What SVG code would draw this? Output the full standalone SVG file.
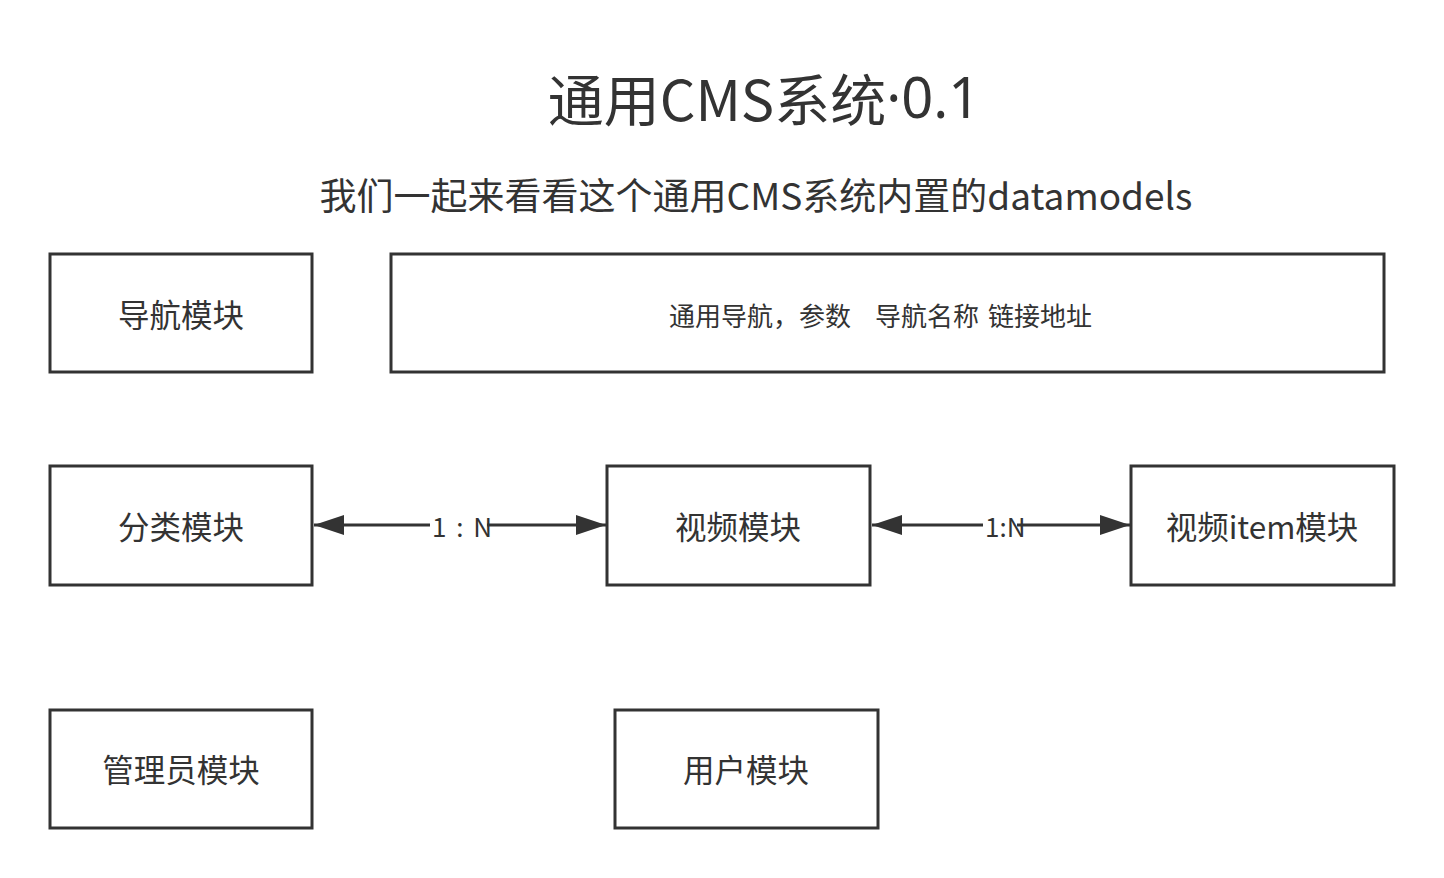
<svg xmlns="http://www.w3.org/2000/svg" width="1444" height="878" viewBox="0 0 1444 878">
<style>
text{font-family:"Noto Sans CJK SC","Noto Sans","Liberation Sans",sans-serif;fill:#333}
.box{fill:#fff;stroke:#333;stroke-width:3}
.lbl{font-size:31.5px;text-anchor:middle;dominant-baseline:central}
.line{stroke:#333;stroke-width:3;fill:none}
.el{font-size:26px;dominant-baseline:central}
</style>
<defs>
<marker id="ah" viewBox="0 0 30 20" refX="30" refY="10" markerWidth="30" markerHeight="20" markerUnits="userSpaceOnUse" orient="auto-start-reverse">
<path d="M0,0 L30,10 L0,20 Z" fill="#333"/>
</marker>
</defs>
<rect width="1444" height="878" fill="#fff"/>
<text x="764" y="96" font-size="56" text-anchor="middle" dominant-baseline="central">通用CMS系统<tspan font-family="Noto Sans, sans-serif">·0.1</tspan></text>
<text x="756" y="194" font-size="37" text-anchor="middle" dominant-baseline="central">我们一起来看看这个通用CMS系统内置的datamodels</text>
<g id="nav"><rect class="box" x="50" y="254" width="262" height="118"/><text class="lbl" x="181" y="313">导航模块</text></g>
<g id="navdesc"><rect class="box" x="391" y="254" width="993" height="118"/><text font-size="26" dominant-baseline="central" y="314"><tspan x="669">通用导航，参数</tspan><tspan x="875">导航名称</tspan><tspan x="988">链接地址</tspan></text></g>
<g id="category"><rect class="box" x="50" y="466" width="262" height="119"/><text class="lbl" x="181" y="525">分类模块</text></g>
<g id="video"><rect class="box" x="607" y="466" width="263" height="119"/><text class="lbl" x="738" y="525">视频模块</text></g>
<g id="videoitem"><rect class="box" x="1131" y="466" width="263" height="119"/><text class="lbl" x="1262" y="525">视频item模块</text></g>
<g id="admin"><rect class="box" x="50" y="710" width="262" height="118"/><text class="lbl" x="181" y="768">管理员模块</text></g>
<g id="user"><rect class="box" x="615" y="710" width="263" height="118"/><text class="lbl" x="746" y="768">用户模块</text></g>
<g id="connectors">
<text class="el" x="432" y="525" xml:space="preserve" word-spacing="4">1 : N</text>
<line class="line" x1="430" y1="525" x2="314" y2="525" marker-end="url(#ah)"/>
<line class="line" x1="487" y1="525" x2="606" y2="525" marker-end="url(#ah)"/>
<text class="el" x="985" y="525">1:N</text>
<line class="line" x1="983" y1="525" x2="872" y2="525" marker-end="url(#ah)"/>
<line class="line" x1="1017" y1="525" x2="1130" y2="525" marker-end="url(#ah)"/>
</g>
</svg>
